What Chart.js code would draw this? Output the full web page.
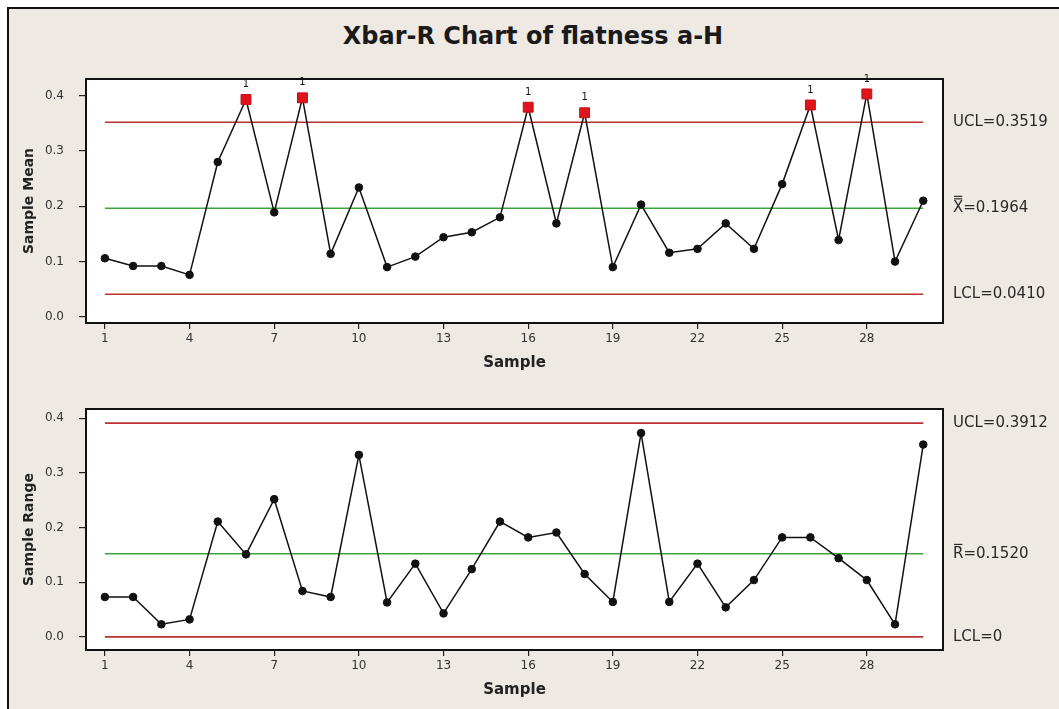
<!DOCTYPE html>
<html>
<head>
<meta charset="utf-8">
<script src="https://cdn.jsdelivr.net/npm/chart.js@4.4.1/dist/chart.umd.min.js"></script>
<style>
  body { margin: 0; background: #fff; width: 1059px; height: 709px; overflow: hidden; position: relative; font-family: "DejaVu Sans", sans-serif; }
  #frame { position: absolute; left: 7px; top: 7px; right: 0; bottom: 0; background: #efe9e3; border-top: 2px solid #111; border-left: 2px solid #111; }
  #title { position: absolute; left: 0; width: 1066px; top: 22px; text-align: center; font: bold 24px "DejaVu Sans", sans-serif; color: #1a1a1a; }
  .box { position: absolute; left: 0; width: 1059px; }
  #topBox { top: 0; height: 380px; }
  #botBox { top: 380px; height: 329px; }
</style>
</head>
<body>
<div id="frame"></div>
<div id="title">Xbar-R Chart of flatness a-H</div>
<div class="box" id="topBox"><canvas id="meanChart"></canvas></div>
<div class="box" id="botBox"><canvas id="rangeChart"></canvas></div>
<script>
// sample numbers 1..30
const samples = [1,2,3,4,5,6,7,8,9,10,11,12,13,14,15,16,17,18,19,20,21,22,23,24,25,26,27,28,29,30];
const sampleTicks = [1,4,7,10,13,16,19,22,25,28];
const yTicks = [0.0,0.1,0.2,0.3,0.4];

const meanValues = [0.106,0.092,0.092,0.076,0.280,0.393,0.189,0.396,0.114,0.234,
                    0.090,0.109,0.144,0.153,0.180,0.379,0.169,0.369,0.090,0.203,
                    0.116,0.123,0.169,0.123,0.240,0.383,0.139,0.403,0.100,0.210];
const rangeValues = [0.073,0.073,0.023,0.032,0.211,0.151,0.252,0.084,0.073,0.333,
                     0.063,0.134,0.043,0.124,0.211,0.182,0.191,0.115,0.064,0.373,
                     0.064,0.134,0.054,0.104,0.182,0.182,0.144,0.104,0.023,0.352];

const meanLimits = { ucl: 0.3519, center: 0.1964, lcl: 0.0410 };
const rangeLimits = { ucl: 0.3912, center: 0.1520, lcl: 0 };

const RED = '#b83232';
const GREEN = '#3aa53a';

function limitLine(v, color) {
    return {
        data: [{x: samples[0], y: v}, {x: samples[samples.length - 1], y: v}],
        borderColor: color, borderWidth: 1.6, pointRadius: 0, fill: false
    };
}

// white plot area, frame, the "1" test flags and the limit labels on the right
const spcPlugin = {
    id: 'spc',
    beforeDraw(chart) {
        const {ctx, chartArea: a} = chart;
        ctx.save();
        ctx.fillStyle = '#fff';
        ctx.fillRect(a.left, a.top, a.right - a.left, a.bottom - a.top);
        ctx.restore();
    },
    afterDatasetsDraw(chart, args, opts) {
        const {ctx, chartArea: a, scales: {y}} = chart;
        ctx.save();
        ctx.strokeStyle = '#111';
        ctx.lineWidth = 2;
        ctx.strokeRect(a.left, a.top, a.right - a.left, a.bottom - a.top);

        // flags over out-of-control points
        const meta = chart.getDatasetMeta(0);
        const vals = chart.data.datasets[0].data;
        ctx.fillStyle = '#111';
        ctx.font = '10px "DejaVu Sans"';
        ctx.textAlign = 'center';
        ctx.textBaseline = 'middle';
        vals.forEach((p, i) => {
            if (p.y > opts.limits.ucl || p.y < opts.limits.lcl) {
                ctx.fillText('1', meta.data[i].x, meta.data[i].y - 15);
            }
        });

        // limit labels
        ctx.font = '15px "DejaVu Sans"';
        ctx.textAlign = 'left';
        ctx.fillStyle = '#2a2a2a';
        const lx = a.right + 10;
        opts.labels.forEach(l => {
            const yy = y.getPixelForValue(l.value);
            ctx.fillText(l.text, lx, yy);
            if (l.bars) {
                const w = ctx.measureText(l.text.charAt(0)).width;
                ctx.fillRect(lx + 1, yy - 10, w - 2, 1.2);
                if (l.bars > 1) ctx.fillRect(lx + 1, yy - 12.5, w - 2, 1.2);
            }
        });
        ctx.restore();
    }
};

function makeChart(id, values, limits, yTitle, yMin, yMax, padTop, xAxisH, titlePad, labels) {
    const pts = values.map((v, i) => ({x: samples[i], y: v}));
    const isOut = v => v > limits.ucl || v < limits.lcl;
    return new Chart(document.getElementById(id), {
        type: 'line',
        data: {
            datasets: [
                {
                    data: pts,
                    borderColor: '#111', borderWidth: 1.5,
                    pointStyle: c => isOut(values[c.dataIndex]) ? 'rect' : 'circle',
                    pointRadius: c => isOut(values[c.dataIndex]) ? 7 : 3.8,
                    pointBackgroundColor: c => isOut(values[c.dataIndex]) ? '#e0141b' : '#111',
                    pointBorderColor: c => isOut(values[c.dataIndex]) ? '#c01015' : '#111',
                    pointBorderWidth: 1
                },
                limitLine(limits.ucl, RED),
                limitLine(limits.center, GREEN),
                limitLine(limits.lcl, RED)
            ]
        },
        options: {
            responsive: true,
            maintainAspectRatio: false,
            animation: false,
            events: [],
            layout: { padding: { left: 0, right: 116, top: padTop, bottom: 0 } },
            plugins: {
                legend: { display: false },
                tooltip: { enabled: false },
                spc: { limits: limits, labels: labels }
            },
            scales: {
                x: {
                    type: 'linear', min: 0.33, max: 30.7,
                    afterBuildTicks: ax => { ax.ticks = sampleTicks.map(v => ({value: v})); },
                    afterFit: ax => { ax.height = xAxisH; },
                    grid: { drawOnChartArea: false, drawTicks: true, tickLength: 6, color: '#222', lineWidth: 1.2 },
                    border: { display: false },
                    ticks: { font: { size: 12, family: 'DejaVu Sans' }, color: '#333', padding: 3, maxRotation: 0 },
                    title: { display: true, text: 'Sample', font: { size: 15, weight: 'bold', family: 'DejaVu Sans' }, color: '#222', padding: { top: 0, bottom: titlePad } }
                },
                y: {
                    min: yMin, max: yMax,
                    afterBuildTicks: ax => { ax.ticks = yTicks.map(v => ({value: v})); },
                    afterFit: ax => { ax.width = 86; },
                    grid: { drawOnChartArea: false, drawTicks: true, tickLength: 7, color: '#222', lineWidth: 1.2 },
                    border: { display: false },
                    ticks: { font: { size: 12, family: 'DejaVu Sans' }, color: '#333', padding: 15, callback: v => v.toFixed(1) },
                    title: { display: true, text: yTitle, font: { size: 14, weight: 'bold', family: 'DejaVu Sans' }, color: '#222', padding: { top: 21, bottom: 0 } }
                }
            }
        },
        plugins: [spcPlugin]
    });
}

makeChart('meanChart', meanValues, meanLimits, 'Sample Mean', -0.011, 0.430, 79, 57, 8, [
    { text: 'UCL=0.3519', value: meanLimits.ucl },
    { text: 'X=0.1964', value: meanLimits.center, bars: 2 },
    { text: 'LCL=0.0410', value: meanLimits.lcl }
]);
makeChart('rangeChart', rangeValues, rangeLimits, 'Sample Range', -0.024, 0.417, 29, 59, 10, [
    { text: 'UCL=0.3912', value: rangeLimits.ucl },
    { text: 'R=0.1520', value: rangeLimits.center, bars: 1 },
    { text: 'LCL=0', value: rangeLimits.lcl }
]);
</script>
</body>
</html>
